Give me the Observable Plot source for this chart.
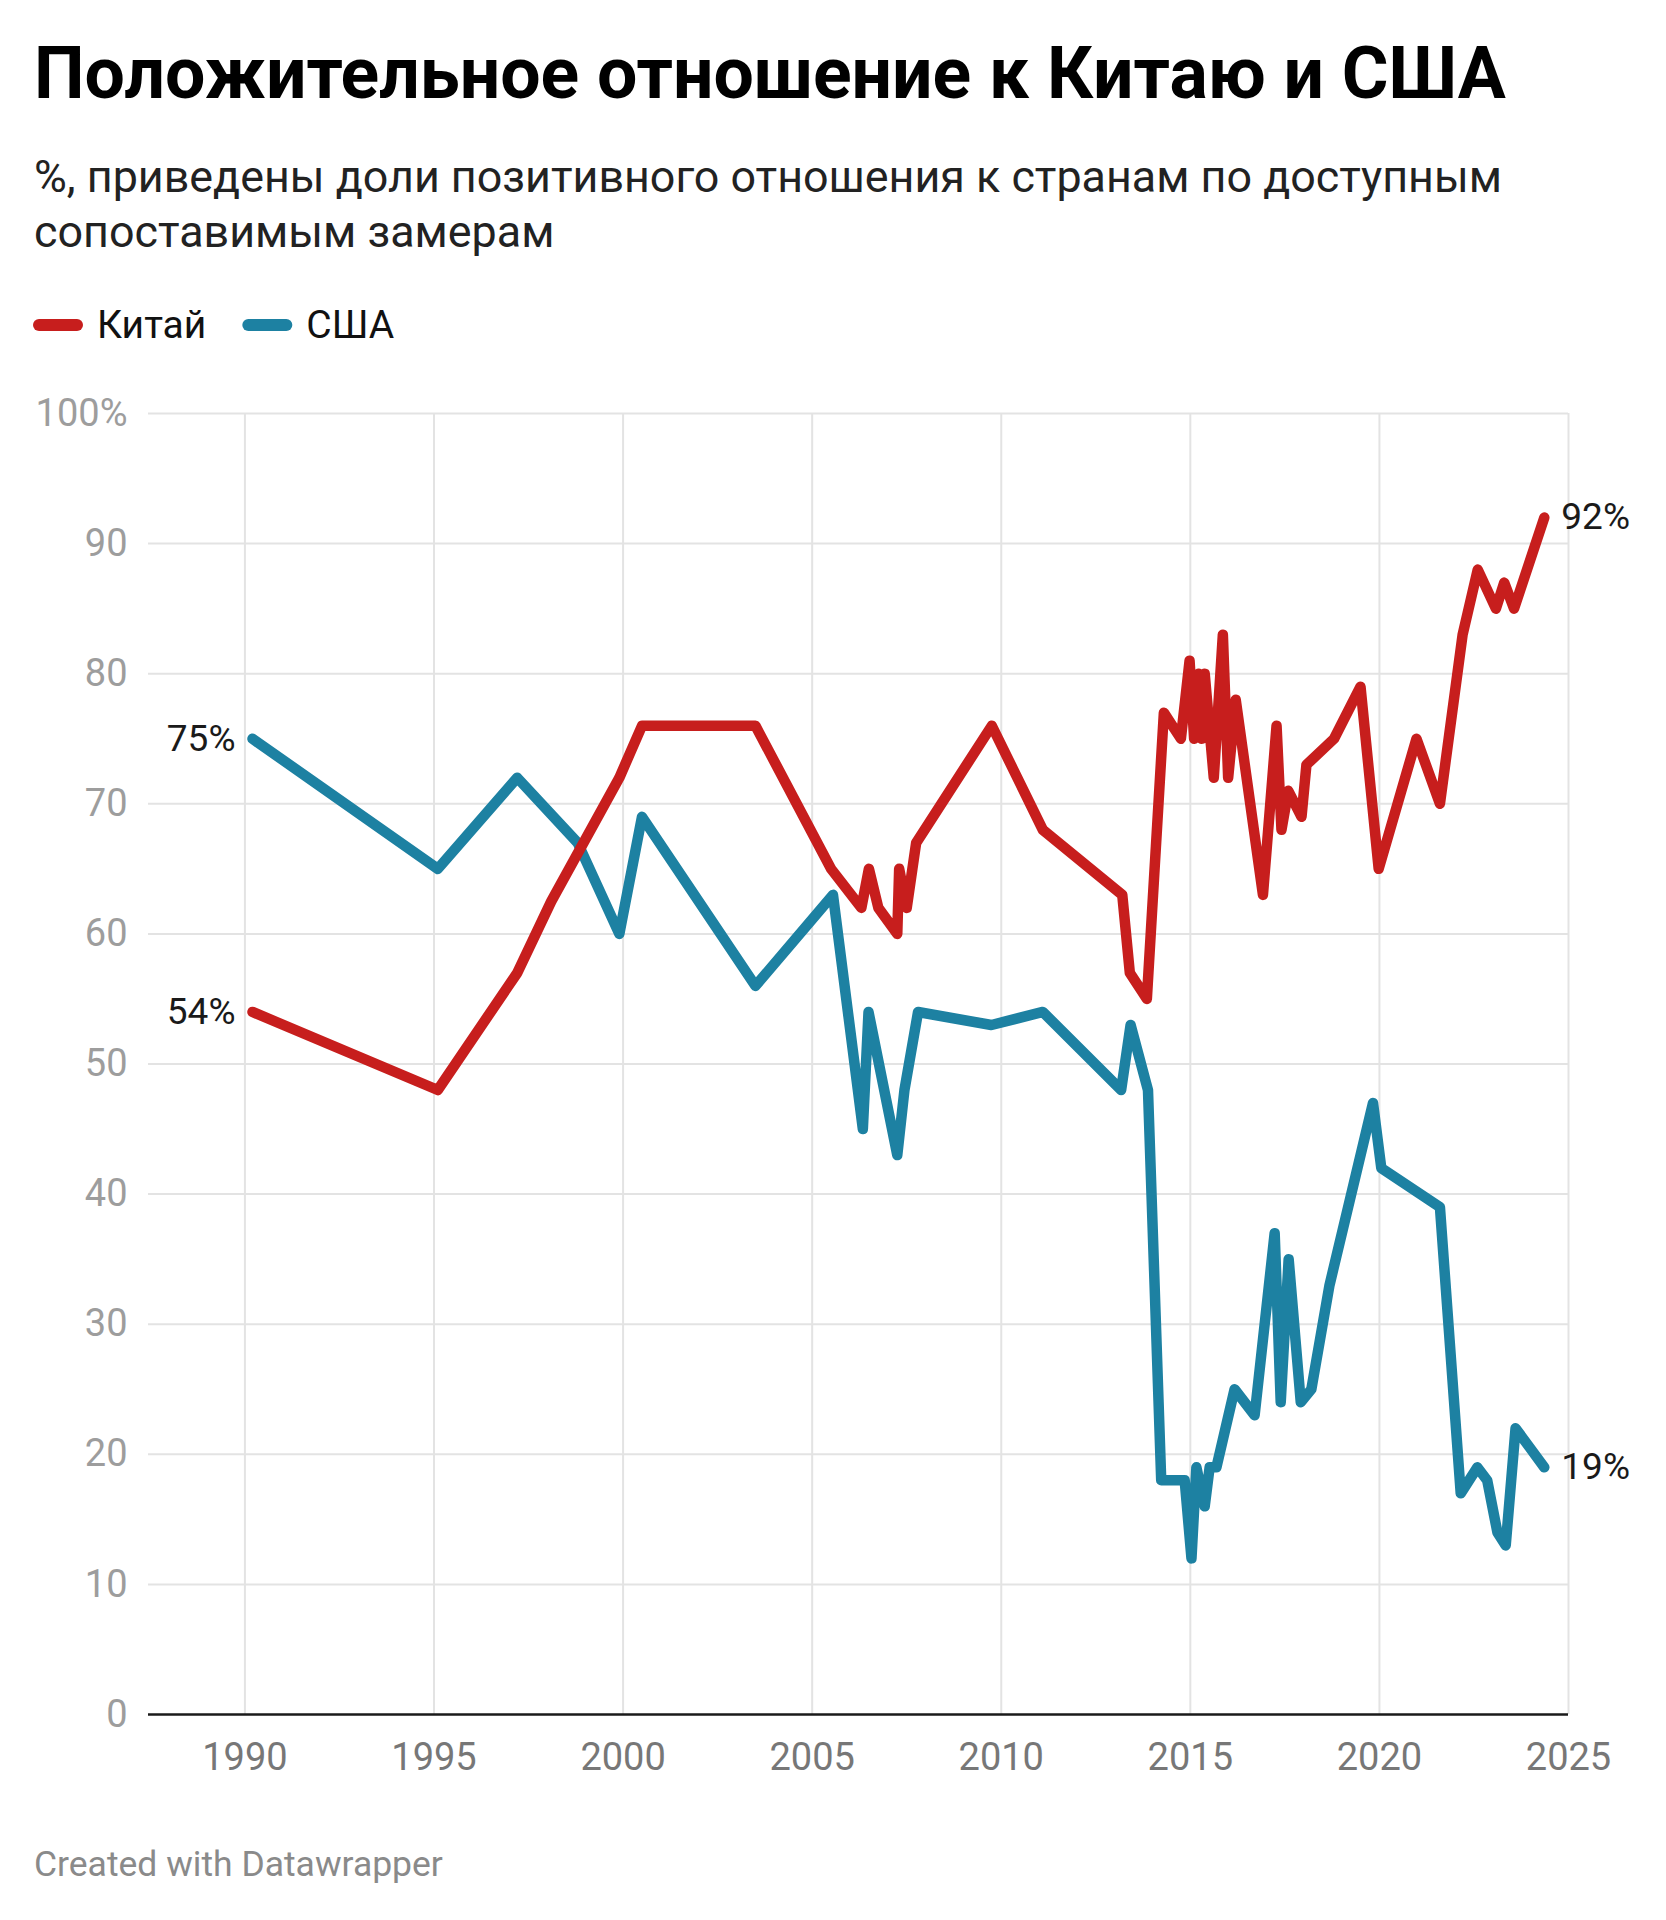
<!DOCTYPE html>
<html>
<head>
<meta charset="utf-8">
<script src="https://cdn.jsdelivr.net/npm/d3@7"></script>
<script src="https://cdn.jsdelivr.net/npm/@observablehq/plot@0.6"></script>
<style>
  html, body { margin: 0; padding: 0; background: #fff; }
  body { width: 1666px; height: 1920px; position: relative; overflow: hidden; font-family: Roboto, "Noto Sans", sans-serif; }
  #header { position: absolute; left: 0; top: 0; }
  #chart { position: absolute; left: 0; top: 370px; }
  #footer { position: absolute; left: 0; top: 1800px; }
  svg { overflow: visible; }
</style>
</head>
<body>
<div id="header"></div>
<div id="chart"></div>
<div id="footer"></div>
<script>
// ---------- data ----------
const titleText = "Положительное отношение к Китаю и США";
const subtitleLines = [
  "%, приведены доли позитивного отношения к странам по доступным",
  "сопоставимым замерам"
];
const footerText = "Created with Datawrapper";

const seriesNames = ["Китай", "США"];
const seriesColors = ["#c71e1d", "#1d81a2"];

const chinaYears = [1990.2, 1995.1, 1997.2, 1998.1, 1999.9, 2000.5, 2003.5, 2005.5, 2006.3, 2006.5,
  2006.75, 2007.25, 2007.3, 2007.5, 2007.75, 2009.75, 2011.1, 2013.2, 2013.4, 2013.85,
  2014.3, 2014.75, 2014.98, 2015.1, 2015.22, 2015.3, 2015.38, 2015.62, 2015.86, 2016.0,
  2016.2, 2016.92, 2017.28, 2017.41, 2017.59, 2017.94, 2018.07, 2018.8, 2019.5, 2019.98,
  2020.98, 2021.6, 2022.2, 2022.6, 2023.08, 2023.3, 2023.56, 2024.36];
const chinaValues = [54, 48, 57, 62.5, 72, 76, 76, 65, 62, 65,
  62, 60, 65, 62, 67, 76, 68, 63, 57, 55,
  77, 75, 81, 75, 80, 75, 80, 72, 83, 72,
  78, 63, 76, 68, 71, 69, 73, 75, 79, 65,
  75, 70, 83, 88, 85, 87, 85, 92];

const usaYears = [1990.2, 1995.1, 1997.2, 1998.8, 1999.9, 2000.5, 2003.5, 2005.55, 2006.34, 2006.49,
  2007.25, 2007.44, 2007.8, 2009.74, 2011.1, 2013.17, 2013.42, 2013.88, 2014.23, 2014.85,
  2015.03, 2015.16, 2015.38, 2015.51, 2015.69, 2016.17, 2016.7, 2017.23, 2017.39, 2017.6,
  2017.92, 2018.2, 2018.68, 2019.83, 2020.05, 2021.6, 2022.15, 2022.59, 2022.85, 2023.12,
  2023.34, 2023.6, 2024.36];
const usaValues = [75, 65, 72, 67, 60, 69, 56, 63, 45, 54,
  43, 48, 54, 53, 54, 48, 53, 48, 18, 18,
  12, 19, 16, 19, 19, 25, 23, 37, 24, 35,
  24, 25, 33, 47, 42, 39, 17, 19, 18, 14,
  13, 22, 19];

const xTicks = [1990, 1995, 2000, 2005, 2010, 2015, 2020, 2025];
const yTicks = [0, 10, 20, 30, 40, 50, 60, 70, 80, 90, 100];
const yTickLabels = ["0", "10", "20", "30", "40", "50", "60", "70", "80", "90", "100%"];
const xDomain = [1987.45, 2025];

// ---------- build ----------
const china = chinaYears.map((year, i) => ({year, value: chinaValues[i]}));
const usa = usaYears.map((year, i) => ({year, value: usaValues[i]}));
const startLabels = [china[0], usa[0]].map(d => ({...d, label: d.value + "%"}));
const endLabels = [china[china.length - 1], usa[usa.length - 1]].map(d => ({...d, label: d.value + "%"}));

const FONT = "Roboto, 'Noto Sans', sans-serif";
const gridColor = "#e3e3e3";

// header
const W = 1666;
const header = d3.select("#header").append("svg")
  .attr("width", W).attr("height", 370)
  .style("font-family", FONT);

function fitText(sel, target) {
  const node = sel.node();
  const fs = parseFloat(sel.attr("font-size"));
  const w = node.getComputedTextLength();
  if (w > 0) sel.attr("font-size", (fs * target / w).toFixed(2));
  return parseFloat(sel.attr("font-size"));
}

const title = header.append("text")
  .attr("x", 34).attr("y", 98)
  .attr("font-size", 75).attr("font-weight", 700).attr("fill", "#000")
  .text(titleText);
fitText(title, 1472);

const sub1 = header.append("text")
  .attr("x", 34).attr("y", 191.5)
  .attr("font-size", 44).attr("fill", "#222")
  .text(subtitleLines[0]);
const subSize = fitText(sub1, 1468);
header.append("text")
  .attr("x", 34).attr("y", 246.5)
  .attr("font-size", subSize).attr("fill", "#222")
  .text(subtitleLines[1]);

// legend
let lx = 33;
seriesNames.forEach((name, i) => {
  header.append("rect")
    .attr("x", lx).attr("y", 319).attr("width", 50).attr("height", 12)
    .attr("rx", 6).attr("fill", seriesColors[i]);
  const t = header.append("text")
    .attr("x", lx + 64).attr("y", 338)
    .attr("font-size", 39).attr("fill", "#111")
    .text(name);
  lx = lx + 64 + t.node().getComputedTextLength() + 36;
});

// chart
const H = 1430;
const chart = Plot.plot({
  width: W,
  height: H,
  marginLeft: 148,
  marginRight: 98,
  marginTop: 43,
  marginBottom: 86,
  x: {domain: xDomain, axis: null},
  y: {domain: [0, 100], axis: null},
  style: {fontFamily: FONT, overflow: "visible", background: "transparent"},
  marks: [
    Plot.ruleX(xTicks, {x: d => d, y1: 0, y2: 100, stroke: gridColor, strokeWidth: 2}),
    Plot.ruleY(yTicks.filter(d => d > 0), {y: d => d, stroke: gridColor, strokeWidth: 2}),
    Plot.ruleY([0], {y: d => d, stroke: "#1a1a1a", strokeWidth: 2.5}),
    Plot.text(yTicks, {y: d => d, text: (d, i) => yTickLabels[i], frameAnchor: "left",
      textAnchor: "end", lineAnchor: "middle", dx: -21, fontSize: 38, fill: "#9d9d9d"}),
    Plot.text(xTicks, {x: d => d, text: d => String(d), frameAnchor: "bottom",
      lineAnchor: "middle", dy: 43, fontSize: 38, fill: "#777"}),
    Plot.line(usa, {x: "year", y: "value", stroke: seriesColors[1], strokeWidth: 10.5,
      strokeLinejoin: "round", strokeLinecap: "round"}),
    Plot.line(china, {x: "year", y: "value", stroke: seriesColors[0], strokeWidth: 10.5,
      strokeLinejoin: "round", strokeLinecap: "round"}),
    Plot.text(startLabels, {x: "year", y: "value", text: "label", textAnchor: "end",
      lineAnchor: "middle", dx: -17, fontSize: 37, fill: "#1a1a1a"}),
    Plot.text(endLabels, {x: "year", y: "value", text: "label", textAnchor: "start",
      lineAnchor: "middle", dx: 17, fontSize: 37, fill: "#1a1a1a"})
  ]
});
document.getElementById("chart").appendChild(chart);

// footer
const footer = d3.select("#footer").append("svg")
  .attr("width", W).attr("height", 120)
  .style("font-family", FONT);
const ft = footer.append("text")
  .attr("x", 34).attr("y", 76)
  .attr("font-size", 35).attr("fill", "#8a8a8a")
  .text(footerText);
fitText(ft, 409);
</script>
</body>
</html>
